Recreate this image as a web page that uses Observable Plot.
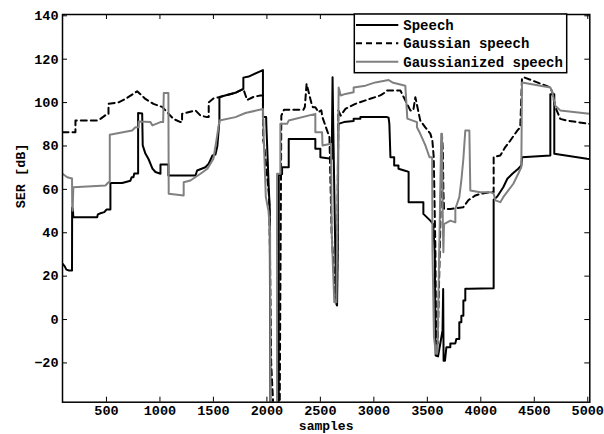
<!DOCTYPE html>
<html>
<head>
<meta charset="utf-8">
<script src="https://cdn.jsdelivr.net/npm/d3@7"></script>
<script src="https://cdn.jsdelivr.net/npm/@observablehq/plot@0.6"></script>
<style>
  html, body { margin: 0; padding: 0; background: white; }
</style>
</head>
<body>
<div id="chart"></div>
<script>
const seriesNames = ["Speech", "Gaussian speech", "Gaussianized speech"];
const xTicks = [500, 1000, 1500, 2000, 2500, 3000, 3500, 4000, 4500, 5000];
const yTicks = [-20, 0, 20, 40, 60, 80, 100, 120, 140];

const speech = [[89,25.8],[110,24.5],[125,23],[150,22.6],[178,22.6],[179,51.6],[186,51],[190,47.2],[413,47.2],[420,48.5],[444,49],[480,49.5],[500,50.7],[537,50.7],[537,62.9],[647,62.9],[690,63.5],[724,64],[735,65.6],[752,65.6],[760,67.3],[796,67.3],[796,95.2],[834,95],[839,80.3],[864,76.5],[893,74],[930,69.6],[958,68],[1005,67.2],[1005,71.5],[1079,71.5],[1079,66.4],[1332,66.4],[1348,68.7],[1425,70.2],[1456,71.8],[1491,75.6],[1519,76],[1537,80],[1550,88],[1556,91.7],[1556,102.6],[1706,104.5],[1780,106.3],[1780,111.5],[1830,112],[1963,115],[1963,93.3],[1993,93.3],[1995,89.5],[2018,60],[2026,52],[2033,-40],[2111,-40],[2111,66.4],[2142,67],[2142,70.2],[2204,70.2],[2204,83.2],[2453,83.2],[2453,78.7],[2500,78.7],[2500,74.8],[2600,74.1],[2606,74],[2614,111.7],[2620,90],[2640,30],[2650,7],[2656,6.5],[2662,30],[2668,90.2],[2720,91],[2811,91.5],[2811,92.5],[2874,92.5],[2874,93.3],[3123,93.3],[3138,93],[3145,90.2],[3155,74.8],[3190,74.8],[3190,71],[3230,71],[3230,69.5],[3300,68.5],[3325,68],[3325,54.1],[3463,54.1],[3463,48.7],[3528,45.6],[3555,44],[3570,30],[3578,-16.6],[3600,-17],[3625,-10],[3642,-5],[3648,14.1],[3652,-19],[3665,-19],[3678,-12.8],[3715,-12.8],[3715,-11],[3762,-11],[3771,-9],[3799,-9],[3799,-1.2],[3818,-1.2],[3818,1.8],[3837,1.8],[3837,8.8],[3855,8.8],[3855,14.2],[3893,14.2],[4120,14.4],[4120,55.2],[4154,56.7],[4210,61],[4248,64.9],[4295,67.2],[4350,69.5],[4379,71],[4385,74.8],[4650,75.6],[4650,103.8],[4687,103.8],[4687,76.4],[4993,74.1],[5015,74]];

const gaussianSpeech = [[89,86.3],[210,86.3],[210,91.7],[413,91.7],[444,92.5],[507,94.8],[519,94.8],[519,99.4],[612,100.1],[678,101.7],[787,105.2],[864,101.7],[939,99.4],[986,98.6],[1021,98],[1126,92.5],[1192,91],[1207,91],[1207,94.8],[1332,96.4],[1379,94],[1440,93.3],[1456,93.3],[1456,100.1],[1500,101.9],[1556,102.5],[1706,104.5],[1780,106.3],[1815,101.2],[1874,102.6],[1939,103.3],[1963,103.3],[1966,82.5],[1975,80.3],[2018,58],[2024,51.8],[2040,-20],[2060,-40],[2120,-40],[2135,94],[2160,96.7],[2341,96.7],[2355,98],[2371,108.6],[2418,99.4],[2430,97.9],[2453,97.9],[2481,95.6],[2509,96.4],[2519,93.3],[2563,87.1],[2585,84],[2605,40],[2640,10],[2655,10],[2668,96.4],[2690,94],[2734,97.1],[2827,99.4],[2921,101],[3061,103.3],[3108,104.8],[3123,105.6],[3248,105.6],[3294,101],[3341,96.4],[3369,96.4],[3388,102.5],[3434,91.7],[3481,88.6],[3528,85.7],[3547,82.5],[3560,74.8],[3575,33],[3582,-11],[3597,-11],[3620,40],[3637,85],[3645,78],[3650,59.5],[3656,51],[3715,51],[3837,51.8],[3883,55],[3949,57.2],[3995,57.9],[4089,58.7],[4120,58.7],[4120,74.9],[4182,75.6],[4229,79.5],[4276,82.5],[4341,87.1],[4369,88.6],[4385,111],[4400,111.7],[4650,107],[4668,104.8],[4696,98],[4743,92.5],[4805,91.7],[5015,90.2]];

const gaussianizedSpeech = [[89,67.2],[133,65.6],[178,65],[180,52.5],[184,50.2],[190,61],[491,61.8],[519,63.3],[531,63.3],[531,85.2],[740,87.1],[771,88.6],[802,88.6],[802,91.3],[911,91],[930,89.5],[1005,91],[1030,91],[1036,104.4],[1079,104.4],[1082,58],[1222,57.2],[1222,63.3],[1285,64.1],[1379,67.2],[1444,69.5],[1500,74.1],[1528,82.6],[1556,91.7],[1706,93.3],[1799,95.2],[1963,97],[1969,85.7],[1990,56.4],[2015,50],[2030,40],[2033,-40],[2095,-40],[2095,67.2],[2126,67.2],[2126,90.2],[2189,90.2],[2204,91.7],[2453,94.8],[2453,86.3],[2516,86.3],[2520,80.2],[2600,81],[2606,40],[2630,8],[2650,8],[2671,107],[2690,103.3],[2734,104],[2811,104.8],[2811,107],[2921,107.8],[3014,109.3],[3138,110.4],[3173,109.3],[3294,107.8],[3313,92.6],[3403,91],[3403,88.6],[3434,85.6],[3481,80.4],[3520,74.8],[3545,74.8],[3548,31.8],[3562,-8],[3580,-15.7],[3595,-15],[3630,85.6],[3637,85.6],[3645,44],[3650,31],[3656,44],[3715,45.6],[3762,44.8],[3762,51],[3799,56.4],[3818,64.1],[3837,74.1],[3855,87.1],[3893,87.1],[3902,59.5],[3995,58.7],[4089,58.7],[4120,58],[4136,54.9],[4182,54.1],[4210,56.4],[4257,59.5],[4304,62.6],[4350,67.2],[4379,70.3],[4385,109.3],[4650,107],[4668,104.8],[4696,98.6],[4743,96.4],[5015,94.8]];

const W = 604, H = 434;
const mL = 62, mR = 14.7, mT = 14, mB = 32.3;
const innerW = W - mL - mR, innerH = H - mT - mB;
const tickLen = 5;
const font = "'Liberation Mono', 'DejaVu Sans Mono', monospace";

const chart = Plot.plot({
  width: W, height: H,
  marginLeft: mL, marginRight: mR, marginTop: mT, marginBottom: mB,
  x: {domain: [89, 5019]},
  y: {domain: [-38.1, 140.6]},
  style: {fontFamily: font, fontWeight: "bold", fontSize: "13.5px", color: "black", background: "white"},
  marks: [
    Plot.line(speech, {x: d => d[0], y: d => d[1], stroke: "black", strokeWidth: 2, clip: true}),
    Plot.line(gaussianSpeech, {x: d => d[0], y: d => d[1], stroke: "black", strokeWidth: 2, strokeDasharray: "6,4", clip: true}),
    Plot.line(gaussianizedSpeech, {x: d => d[0], y: d => d[1], stroke: "#808080", strokeWidth: 2, clip: true}),
    Plot.frame({stroke: "black", strokeWidth: 1.5}),
    Plot.tickX(xTicks, {x: d => d, insetTop: innerH - tickLen, stroke: "black", strokeWidth: 1}),
    Plot.tickX(xTicks, {x: d => d, insetBottom: innerH - tickLen, stroke: "black", strokeWidth: 1}),
    Plot.tickY(yTicks, {y: d => d, insetRight: innerW - tickLen, stroke: "black", strokeWidth: 1}),
    Plot.tickY(yTicks, {y: d => d, insetLeft: innerW - tickLen, stroke: "black", strokeWidth: 1}),
    Plot.axisX({ticks: xTicks, tickSize: 0, tickPadding: 3, label: null, tickFormat: d => String(d)}),
    Plot.axisY({ticks: yTicks, tickSize: 0, tickPadding: 4, label: null, tickFormat: d => d < 0 ? "\u2212" + Math.abs(d) : String(d)}),
    Plot.text(["samples"], {frameAnchor: "bottom", dy: 24, text: d => d, fontSize: 13, fontWeight: "bold", lineAnchor: "middle"}),
    Plot.text(["SER [dB]"], {frameAnchor: "left", dx: -42, rotate: -90, text: d => d, fontSize: 13.5, fontWeight: "bold", lineAnchor: "middle"})
  ]
});

document.getElementById("chart").appendChild(chart);

// Legend inside the plot area (top right)
const svg = d3.select(chart);
const lg = svg.append("g").attr("class", "legend").attr("text-anchor", "start");
const box = {x: 354.3, y: 14, w: 212.4, h: 58.7};
lg.append("rect").attr("x", box.x).attr("y", box.y).attr("width", box.w).attr("height", box.h)
  .attr("fill", "white").attr("stroke", "black").attr("stroke-width", 1.5);
const styles = [
  {stroke: "black", dash: null},
  {stroke: "black", dash: "6,4"},
  {stroke: "#808080", dash: null}
];
const rowY = [25, 43.3, 61.7];
seriesNames.forEach((name, i) => {
  const l = lg.append("line").attr("x1", 356).attr("x2", 398.3).attr("y1", rowY[i]).attr("y2", rowY[i])
    .attr("stroke", styles[i].stroke).attr("stroke-width", 2);
  if (styles[i].dash) l.attr("stroke-dasharray", styles[i].dash);
  lg.append("text").attr("x", 403.3).attr("y", rowY[i]).attr("dy", "0.35em")
    .attr("text-anchor", "start")
    .attr("font-family", font).attr("font-weight", "bold").attr("font-size", 14)
    .attr("fill", "black").text(name);
});
</script>
</body>
</html>
